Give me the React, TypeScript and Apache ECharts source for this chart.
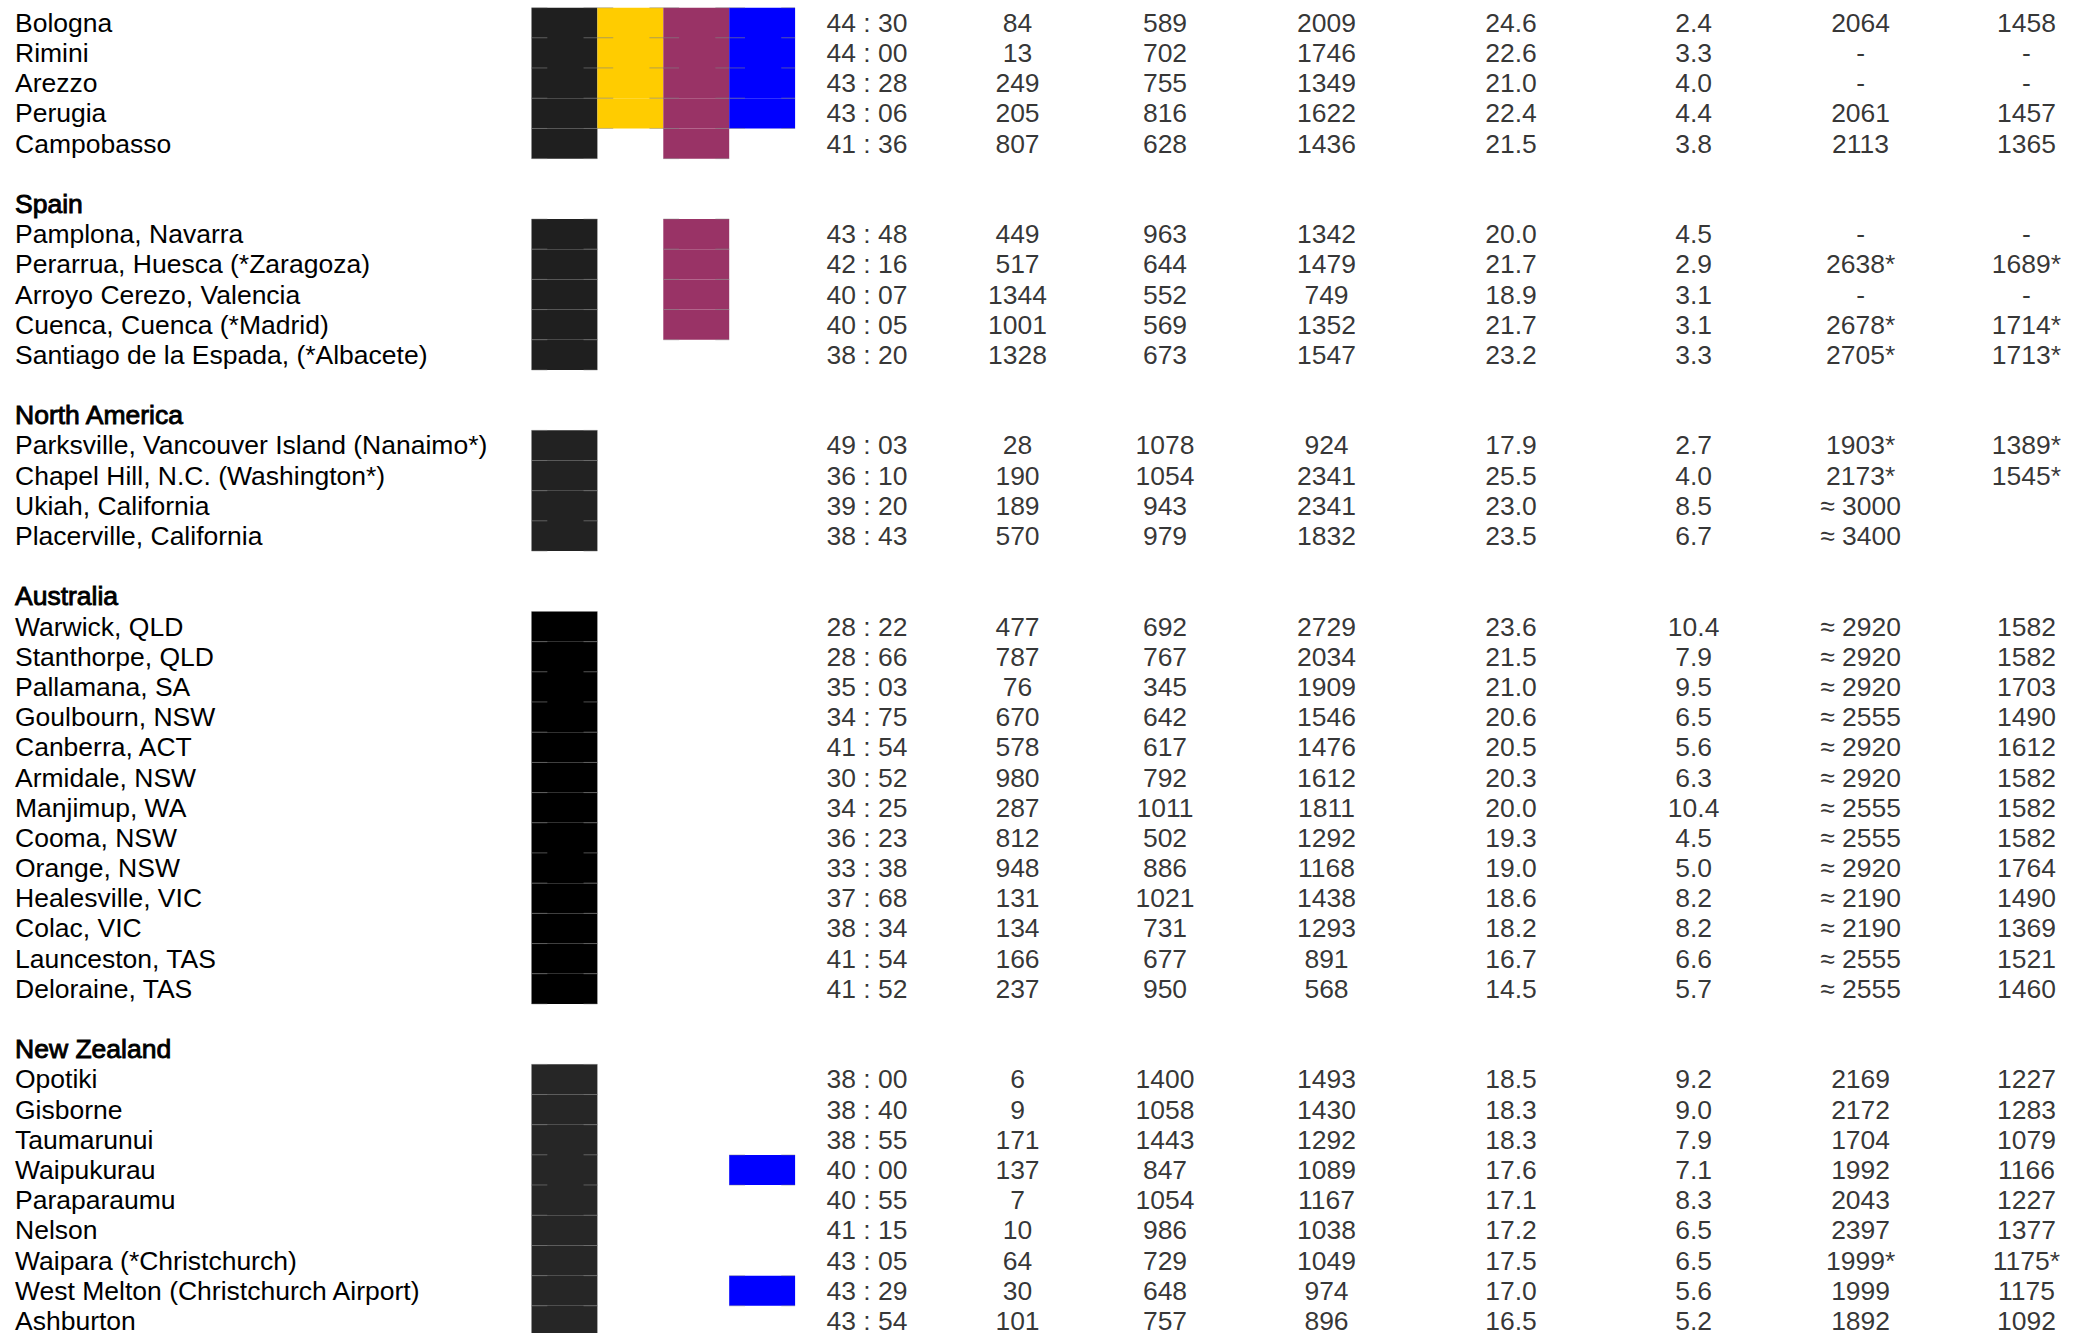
import React, { useEffect, useRef } from "react";
import * as echarts from "echarts";

// ---------- data ----------
const regionNames = ["Italy", "Spain", "North America", "Australia", "New Zealand"];
const regionSizes = [5, 5, 4, 13, 9];
const regionHeaderVisible = [false, true, true, true, true];

const stations = [
  "Bologna", "Rimini", "Arezzo", "Perugia", "Campobasso",
  "Pamplona, Navarra", "Perarrua, Huesca (*Zaragoza)", "Arroyo Cerezo, Valencia", "Cuenca, Cuenca (*Madrid)", "Santiago de la Espada, (*Albacete)",
  "Parksville, Vancouver Island (Nanaimo*)", "Chapel Hill, N.C. (Washington*)", "Ukiah, California", "Placerville, California",
  "Warwick, QLD", "Stanthorpe, QLD", "Pallamana, SA", "Goulbourn, NSW", "Canberra, ACT", "Armidale, NSW", "Manjimup, WA", "Cooma, NSW", "Orange, NSW", "Healesville, VIC", "Colac, VIC", "Launceston, TAS", "Deloraine, TAS",
  "Opotiki", "Gisborne", "Taumarunui", "Waipukurau", "Paraparaumu", "Nelson", "Waipara (*Christchurch)", "West Melton (Christchurch Airport)", "Ashburton",
];

const latitude = [
  "44 : 30", "44 : 00", "43 : 28", "43 : 06", "41 : 36",
  "43 : 48", "42 : 16", "40 : 07", "40 : 05", "38 : 20",
  "49 : 03", "36 : 10", "39 : 20", "38 : 43",
  "28 : 22", "28 : 66", "35 : 03", "34 : 75", "41 : 54", "30 : 52", "34 : 25", "36 : 23", "33 : 38", "37 : 68", "38 : 34", "41 : 54", "41 : 52",
  "38 : 00", "38 : 40", "38 : 55", "40 : 00", "40 : 55", "41 : 15", "43 : 05", "43 : 29", "43 : 54",
];

const altitude = [
  84, 13, 249, 205, 807,
  449, 517, 1344, 1001, 1328,
  28, 190, 189, 570,
  477, 787, 76, 670, 578, 980, 287, 812, 948, 131, 134, 166, 237,
  6, 9, 171, 137, 7, 10, 64, 30, 101,
];

const rainfall = [
  589, 702, 755, 816, 628,
  963, 644, 552, 569, 673,
  1078, 1054, 943, 979,
  692, 767, 345, 642, 617, 792, 1011, 502, 886, 1021, 731, 677, 950,
  1400, 1058, 1443, 847, 1054, 986, 729, 648, 757,
];

const degreeDays = [
  2009, 1746, 1349, 1622, 1436,
  1342, 1479, 749, 1352, 1547,
  924, 2341, 2341, 1832,
  2729, 2034, 1909, 1546, 1476, 1612, 1811, 1292, 1168, 1438, 1293, 891, 568,
  1493, 1430, 1292, 1089, 1167, 1038, 1049, 974, 896,
];

const warmestMonthTemp = [
  24.6, 22.6, 21.0, 22.4, 21.5,
  20.0, 21.7, 18.9, 21.7, 23.2,
  17.9, 25.5, 23.0, 23.5,
  23.6, 21.5, 21.0, 20.6, 20.5, 20.3, 20.0, 19.3, 19.0, 18.6, 18.2, 16.7, 14.5,
  18.5, 18.3, 18.3, 17.6, 17.1, 17.2, 17.5, 17.0, 16.5,
];

const tempRange = [
  2.4, 3.3, 4.0, 4.4, 3.8,
  4.5, 2.9, 3.1, 3.1, 3.3,
  2.7, 4.0, 8.5, 6.7,
  10.4, 7.9, 9.5, 6.5, 5.6, 6.3, 10.4, 4.5, 5.0, 8.2, 8.2, 6.6, 5.7,
  9.2, 9.0, 7.9, 7.1, 8.3, 6.5, 6.5, 5.6, 5.2,
];

const heatIndexA = [
  "2064", "-", "-", "2061", "2113",
  "-", "2638*", "-", "2678*", "2705*",
  "1903*", "2173*", "≈ 3000", "≈ 3400",
  "≈ 2920", "≈ 2920", "≈ 2920", "≈ 2555", "≈ 2920", "≈ 2920", "≈ 2555", "≈ 2555", "≈ 2920", "≈ 2190", "≈ 2190", "≈ 2555", "≈ 2555",
  "2169", "2172", "1704", "1992", "2043", "2397", "1999*", "1999", "1892",
];

const heatIndexB = [
  "1458", "-", "-", "1457", "1365",
  "-", "1689*", "-", "1714*", "1713*",
  "1389*", "1545*", "", "",
  "1582", "1582", "1703", "1490", "1612", "1582", "1582", "1582", "1764", "1490", "1369", "1521", "1460",
  "1227", "1283", "1079", "1166", "1227", "1377", "1175*", "1175", "1092",
];

// marker columns: which stations are flagged in each of the four colour columns
const markerColumns = ["A", "B", "C", "D"];
const markerA = stations.slice();
const markerB = ["Bologna", "Rimini", "Arezzo", "Perugia"];
const markerC = ["Bologna", "Rimini", "Arezzo", "Perugia", "Campobasso",
  "Pamplona, Navarra", "Perarrua, Huesca (*Zaragoza)", "Arroyo Cerezo, Valencia", "Cuenca, Cuenca (*Madrid)"];
const markerD = ["Bologna", "Rimini", "Arezzo", "Perugia", "Waipukurau", "West Melton (Christchurch Airport)"];

// ---------- styles / layout ----------
const FONT = "Liberation Sans";
const FS = 26.5;
const ROW_H = 30.19;
const TOP = 7.7;
const CHART_H = 1380;
const colX = [867, 1017.5, 1165, 1326.5, 1511, 1693.6, 1860.6, 2026.4];
const BAR_LEFT = 531.5;
const BAR_W = 65.9;
const regionBlack = ["#1f1f1f", "#1f1f1f", "#222222", "#000000", "#262626"];
const markerColors = [null, "#ffcc00", "#993366", "#0000ff"];

export default function App() {
  const ref = useRef<HTMLDivElement>(null);

  useEffect(() => {
    if (!ref.current) return;
    const chart = echarts.init(ref.current, undefined, { renderer: "svg" });

    type Row = { kind: "station" | "header" | "blank"; text: string; station: number; region: number };
    const rows: Row[] = [];
    const stationRow: number[] = [];
    const stationRegion: number[] = [];
    let s = 0;
    regionNames.forEach((name, r) => {
      if (r > 0) rows.push({ kind: "blank", text: "", station: -1, region: r });
      if (regionHeaderVisible[r]) rows.push({ kind: "header", text: name, station: -1, region: r });
      for (let k = 0; k < regionSizes[r]; k++) {
        stationRow[s] = rows.length;
        stationRegion[s] = r;
        rows.push({ kind: "station", text: stations[s], station: s, region: r });
        s++;
      }
    });
    const nRows = rows.length;
    const gridH = nRows * ROW_H;
    const rowKeys = rows.map((_, i) => "row" + i);

    const fmt1 = (v: number) => v.toFixed(1);
    const columns: string[][] = [
      latitude,
      altitude.map(String),
      rainfall.map(String),
      degreeDays.map(String),
      warmestMonthTemp.map(fmt1),
      tempRange.map(fmt1),
      heatIndexA,
      heatIndexB,
    ];
    const textData: any[] = [];
    columns.forEach((col, c) => {
      col.forEach((txt, i) => {
        if (txt === "") return;
        textData.push([colX[c], stationRow[i], txt]);
      });
    });

    const markerLists = [markerA, markerB, markerC, markerD];
    const cellData: any[] = [];
    markerLists.forEach((list, c) => {
      list.forEach((name) => {
        const i = stations.indexOf(name);
        if (i < 0) return;
        const color = c === 0 ? regionBlack[stationRegion[i]] : markerColors[c];
        cellData.push({ value: [c, stationRow[i]], itemStyle: { color } });
      });
    });

    const option: any = {
      animation: false,
      backgroundColor: "#ffffff",
      textStyle: { fontFamily: FONT },
      grid: [
        { left: 0, top: TOP, width: 2078, height: gridH, containLabel: false },
        { left: BAR_LEFT, top: TOP, width: BAR_W * 4, height: gridH, containLabel: false },
      ],
      xAxis: [
        { type: "value", gridIndex: 0, min: 0, max: 2078, show: false },
        { type: "category", gridIndex: 1, data: markerColumns, show: false, boundaryGap: true },
      ],
      yAxis: [
        {
          type: "category",
          gridIndex: 0,
          data: rowKeys,
          inverse: true,
          boundaryGap: true,
          axisLine: { show: false },
          axisTick: { show: false },
          splitLine: { show: false },
          axisLabel: {
            show: true,
            inside: true,
            interval: 0,
            margin: 15,
            align: "left",
            verticalAlign: "middle",
            color: "#000",
            fontFamily: FONT,
            fontSize: FS,
            formatter: (_v: string, idx: number) => {
              const r = rows[idx];
              if (!r) return "";
              if (r.kind === "header") return "{h|" + r.text + "}";
              return r.text;
            },
            rich: {
              h: {
                fontSize: FS,
                fontFamily: FONT,
                color: "#000",
                textBorderColor: "#000",
                textBorderWidth: 0.9,
              },
            },
          },
        },
        {
          type: "category",
          gridIndex: 1,
          data: rowKeys,
          inverse: true,
          boundaryGap: true,
          show: false,
        },
      ],
      series: [
        {
          type: "custom",
          name: "markers",
          xAxisIndex: 1,
          yAxisIndex: 1,
          data: cellData,
          renderItem: (params: any, api: any) => {
            const p = api.coord([api.value(0), api.value(1)]);
            const sz = api.size([1, 1]);
            const w = sz[0];
            const h = sz[1];
            const x0 = p[0] - w / 2;
            const y0 = p[1] - h / 2;
            const color = api.visual("color");
            const lineStyle = { stroke: "rgba(130,130,130,0.45)", lineWidth: 1 };
            const seg = (y: number) => [
              { type: "line", shape: { x1: x0, y1: y, x2: x0 + w * 0.24, y2: y }, style: lineStyle },
              { type: "line", shape: { x1: x0 + w * 0.79, y1: y, x2: x0 + w, y2: y }, style: lineStyle },
            ];
            return {
              type: "group",
              children: [
                { type: "rect", shape: { x: x0, y: y0, width: w, height: h }, style: { fill: color } },
                ...seg(y0),
                ...seg(y0 + h),
              ],
            };
          },
        },
        {
          type: "scatter",
          name: "cells",
          xAxisIndex: 0,
          yAxisIndex: 0,
          symbol: "circle",
          symbolSize: 1,
          itemStyle: { color: "rgba(0,0,0,0)" },
          data: textData,
          label: {
            show: true,
            position: "inside",
            align: "center",
            verticalAlign: "middle",
            color: "#000",
            fontFamily: FONT,
            fontSize: FS,
            formatter: (p: any) => p.value[2],
          },
          emphasis: { disabled: true },
        },
      ],
    };

    chart.setOption(option);
    return () => chart.dispose();
  }, []);

  return (
    <div
      style={{
        position: "absolute",
        left: 0,
        top: 0,
        width: 2078,
        height: 1333,
        overflow: "hidden",
        background: "#fff",
      }}
    >
      <div ref={ref} style={{ width: 2078, height: CHART_H }} />
    </div>
  );
}
